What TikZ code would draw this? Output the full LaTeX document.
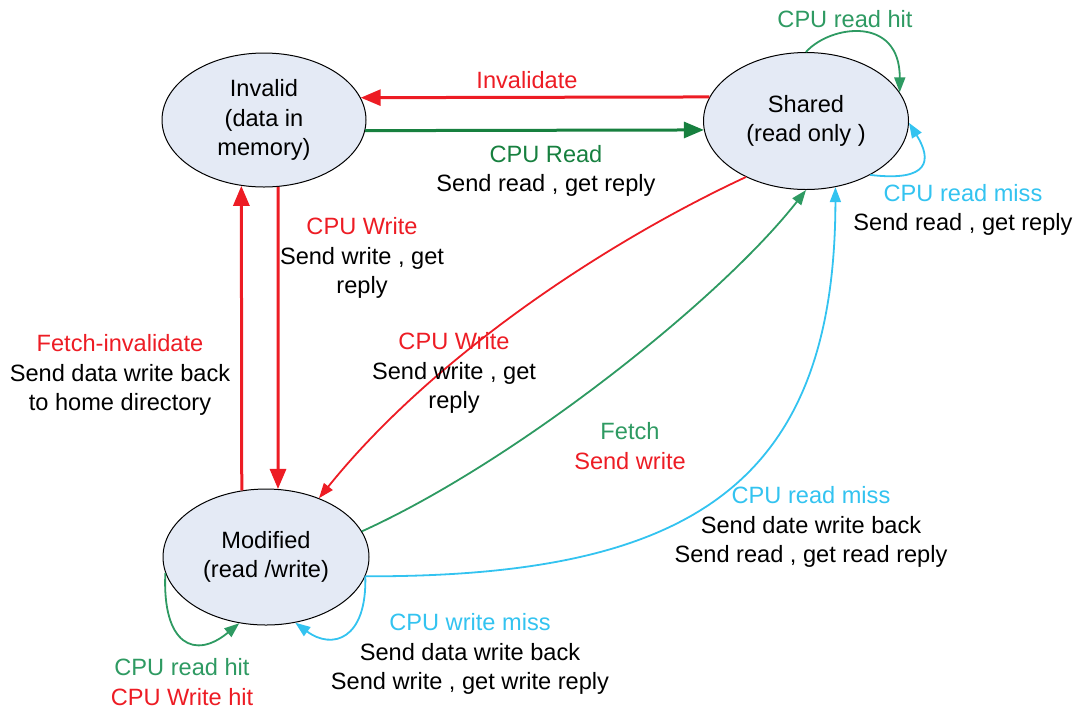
\documentclass[tikz,border=0pt]{standalone}
\usepackage{fontspec}
\setmainfont{Liberation Sans}
\usetikzlibrary{shapes.geometric,arrows.meta}
\definecolor{cred}{HTML}{ED1C24}
\definecolor{cdkgreen}{HTML}{17803F}
\definecolor{cgreen}{HTML}{2E9A62}
\definecolor{ccyan}{HTML}{33C3F0}
\definecolor{cfill}{HTML}{E4EAF5}
\newcommand{\lblfont}{\fontsize{11.8}{14.75}\selectfont}

\begin{document}
\begin{tikzpicture}[x=0.5pt,y=-0.5pt,
  state/.style={ellipse,draw=black,line width=0.5pt,fill=cfill,inner sep=0pt,
                align=center,font=\lblfont},
  lbl/.style={inner sep=0pt,align=center,font=\lblfont},
  thick arrow/.style={line width=1.5pt,-{Triangle[length=10pt,width=8pt]}},
  thin arrow/.style={line width=0.9pt,-{Triangle[length=7.5pt,width=5.5pt]}}]
\useasboundingbox (0,0) rectangle (1075,709);

% states
\node[state,minimum width=102pt,minimum height=67pt] (inv) at (264,120)
  {Invalid\\(data in\\memory)};
\node[state,minimum width=102.5pt,minimum height=68.5pt] (sh) at (806,121)
  {Shared\\(read only )};
\node[state,minimum width=103pt,minimum height=68pt] (mod) at (266,557)
  {Modified\\(read /write)};

% transitions between Invalid and Shared
\draw[thick arrow,cred] (sh.166) -- (inv.13);
\draw[thick arrow,cdkgreen] (inv.-6) -- (sh.185);

% transitions between Invalid and Modified
\draw[thick arrow,cred] (inv.-78) -- (mod.80);
\draw[thick arrow,cred] (mod.110) -- (inv.-109);

% transitions between Shared and Modified
\draw[thin arrow,cred] (sh.223) .. controls (600,245) and (430,360) .. (mod.48);
\draw[thin arrow,cgreen] (mod.15) .. controls (515,462) and (720,300) .. (sh.south);
\draw[thin arrow,ccyan] (mod.-11) .. controls (686,577) and (835,488) .. (sh.-66);

% self loops
\draw[thin arrow,cgreen] (sh.north) .. controls (830,25) and (900,15) .. (sh.17);
\draw[thin arrow,ccyan] (sh.-40) .. controls (930,182) and (932,160) .. (sh.-1);
\draw[thin arrow,cgreen] (mod.189) .. controls (162,645) and (195,660) .. (mod.248);
\draw[thin arrow,ccyan] (mod.-11) .. controls (367,640) and (332,650) .. (mod.-66);

% labels
\node[lbl,text=cred] (lInvalidate) at (527,80) {Invalidate};
\node[lbl] (lRead) at (546,171)
  {\textcolor{cdkgreen}{CPU Read}\\Send read , get reply};
\node[lbl,text=cgreen] (lShHit) at (845,19) {CPU read hit};
\node[lbl] (lShMiss) at (963,210)
  {\textcolor{ccyan}{CPU read miss}\\Send read , get reply};
\node[lbl] (lWriteA) at (362,258)
  {\textcolor{cred}{CPU Write}\\Send write , get\\reply};
\node[lbl] (lFetchInv) at (120,375)
  {\textcolor{cred}{Fetch-invalidate}\\Send data write back\\to home directory};
\node[lbl] (lWriteB) at (454,373)
  {\textcolor{cred}{CPU Write}\\Send write , get\\reply};
\node[lbl] (lFetch) at (630,446)
  {\textcolor{cgreen}{Fetch}\\\textcolor{cred}{Send write}};
\node[lbl] (lModMiss) at (811,527)
  {\textcolor{ccyan}{CPU read miss}\\Send date write back\\Send read , get read reply};
\node[lbl] (lWriteMiss) at (470,654)
  {\textcolor{ccyan}{CPU write miss}\\Send data write back\\Send write , get write reply};
\node[lbl] (lModHit) at (182,682)
  {\textcolor{cgreen}{CPU read hit}\\\textcolor{cred}{CPU Write hit}};
\end{tikzpicture}
\end{document}
